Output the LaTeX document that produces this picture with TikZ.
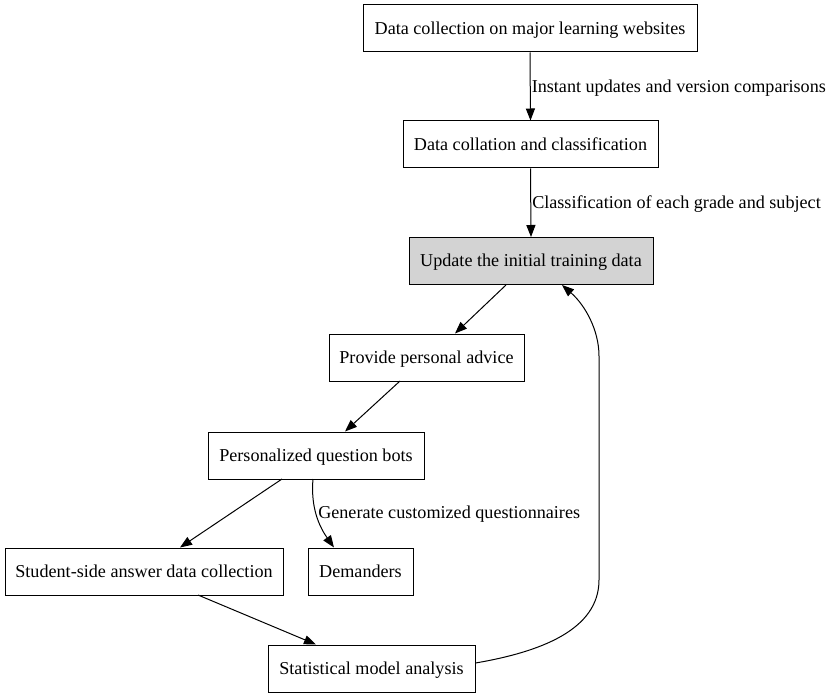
\documentclass[tikz,border=0pt]{standalone}
\usepackage{fontspec}
\setmainfont{Liberation Serif}
\usetikzlibrary{arrows.meta}
\begin{document}
\begin{tikzpicture}[x=0.75pt,y=-0.75pt,
  box/.style={draw, line width=0.75pt, minimum height=35.25pt, inner sep=0pt, text height=11.5pt, text depth=3pt, font=\fontsize{13.6}{16}\selectfont},
  edge/.style={line width=0.75pt, -{Triangle[length=9pt,width=6.8pt]}},
  lbl/.style={font=\fontsize{13.6}{16}\selectfont, anchor=west, inner sep=0pt}]
\useasboundingbox (0,0) rectangle (833,699);
\node[box, minimum width=250.5pt] (n1) at (530,28.5) {Data collection on major learning websites};
\node[box, minimum width=191.25pt] (n2) at (530.5,144.5) {Data collation and classification};
\node[box, minimum width=183pt, fill={rgb,255:red,211;green,211;blue,211}] (n3) at (531,261) {Update the initial training data};
\node[box, minimum width=146.25pt] (n4) at (426.5,357.5) {Provide personal advice};
\node[box, minimum width=162pt] (n5) at (316,455.5) {Personalized question bots};
\node[box, minimum width=208.5pt] (n6) at (144,571.5) {Student-side answer data collection};
\node[box, minimum width=78.75pt] (n7) at (360.5,571.5) {Demanders};
\node[box, minimum width=155.25pt] (n8) at (371.5,668.5) {Statistical model analysis};

\draw[edge] (n1.south) -- (n2.north) node[lbl, pos=0.5, xshift=0.75pt, yshift=-1.2pt] {Instant updates and version comparisons};
\draw[edge] (n2.south) -- (n3.north) node[lbl, pos=0.5, xshift=0.75pt, yshift=-1.2pt] {Classification of each grade and subject};
\draw[edge] (506,285) -- (n4.north -| 455,0);
\draw[edge] (400,381) -- (n5.north -| 345,0);
\draw[edge] (282,479) -- (n6.north -| 180,0);
\draw[edge] (313,479) .. controls (311,502) and (316,522) .. (n7.north -| 334,0);
\node[lbl] (l3) at (318,514.5) {Generate customized questionnaires};
\draw[edge] (198,595) -- (n8.north -| 316,0);
\draw[edge] (n8.east |- 0,663) .. controls (540,652) and (599,630) .. (599,580) -- (599,356) .. controls (599,330) and (585,305) .. (n3.south -| 562,0);
\end{tikzpicture}
\end{document}
